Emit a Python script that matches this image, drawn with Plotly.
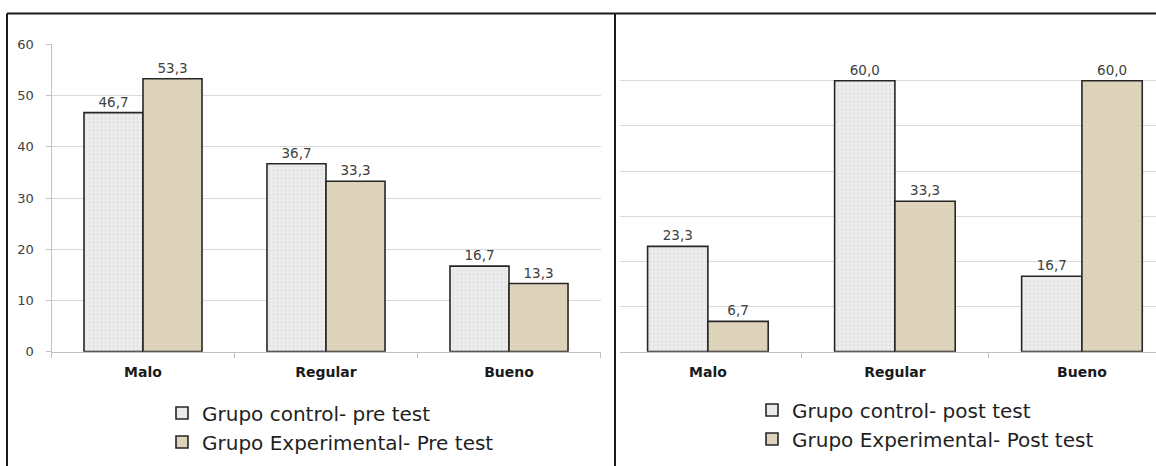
import plotly.graph_objects as go

categories = ["Malo", "Regular", "Bueno"]
pre_control = [46.7, 36.7, 16.7]
pre_experimental = [53.3, 33.3, 13.3]
post_control = [23.3, 60.0, 16.7]
post_experimental = [6.7, 33.3, 60.0]
names_pre = ["Grupo control- pre test", "Grupo Experimental- Pre test"]
names_post = ["Grupo control- post test", "Grupo Experimental- Post test"]
y_ticks_left = [0, 10, 20, 30, 40, 50, 60]

W, H = 1156, 466


def py(v):
    # pixel row (from top) -> paper fraction, compensating the capture's vertical fit
    return 1 - ((v - 6.4) / 0.9705) / H


def fmt(vals):
    return [f"{v:.1f}".replace(".", ",") for v in vals]


ctrl_marker = dict(color="#ededed", line=dict(color="#262626", width=1.6),
                   pattern=dict(shape=".", fgcolor="#d0d0d0", size=4, solidity=0.25, fillmode="overlay"))
exp_marker = dict(color="#e0d6be", line=dict(color="#262626", width=1.6),
                  pattern=dict(shape="+", fgcolor="#c8bb9d", size=4, solidity=0.2, fillmode="overlay"))
label_font = dict(family="DejaVu Sans", size=13.5, color="#404040")

fig = go.Figure()
fig.add_trace(go.Bar(x=categories, y=pre_control, name=names_pre[0], marker=ctrl_marker,
                     text=fmt(pre_control), textposition="outside", textfont=label_font,
                     cliponaxis=False, xaxis="x", yaxis="y", legend="legend"))
fig.add_trace(go.Bar(x=categories, y=pre_experimental, name=names_pre[1], marker=exp_marker,
                     text=fmt(pre_experimental), textposition="outside", textfont=label_font,
                     cliponaxis=False, xaxis="x", yaxis="y", legend="legend"))
fig.add_trace(go.Bar(x=categories, y=post_control, name=names_post[0], marker=ctrl_marker,
                     text=fmt(post_control), textposition="outside", textfont=label_font,
                     cliponaxis=False, xaxis="x2", yaxis="y2", legend="legend2"))
fig.add_trace(go.Bar(x=categories, y=post_experimental, name=names_post[1], marker=exp_marker,
                     text=fmt(post_experimental), textposition="outside", textfont=label_font,
                     cliponaxis=False, xaxis="x2", yaxis="y2", legend="legend2"))

axis_cat = dict(showgrid=False, showline=True, linecolor="#bfbfbf", linewidth=1,
                ticks="outside", tickson="boundaries", ticklen=5, tickcolor="#bfbfbf",
                tickfont=dict(family="DejaVu Sans", size=14, color="#1a1a1a", weight="bold"),
                ticklabelstandoff=8, fixedrange=True)

leg_font = dict(family="DejaVu Sans", size=20, color="#1f1f1f")

fig.update_layout(
    width=W, height=H, margin=dict(l=0, r=0, t=0, b=0),
    paper_bgcolor="white", plot_bgcolor="white",
    barmode="group", bargap=0.355, bargroupgap=0,
    xaxis=dict(domain=[51.5 / W, 600.5 / W], anchor="y", **axis_cat),
    yaxis=dict(domain=[py(352), py(44)], anchor="x", range=[0, 60], tickvals=y_ticks_left,
               showgrid=True, gridcolor="#d9d9d9", gridwidth=1,
               showline=True, linecolor="#bfbfbf", linewidth=1,
               ticks="outside", ticklen=5, tickcolor="#bfbfbf", ticklabelstandoff=9,
               tickfont=dict(family="DejaVu Sans", size=13, color="#404040"),
               zeroline=False, fixedrange=True),
    xaxis2=dict(domain=[620 / W, 1.0], anchor="y2", range=[-0.47, 2.396], **axis_cat),
    yaxis2=dict(domain=[py(352), py(35)], anchor="x2", range=[0, 70], dtick=10,
                showgrid=True, gridcolor="#d9d9d9", gridwidth=1,
                showline=False, showticklabels=False, ticks="",
                zeroline=False, fixedrange=True),
    legend=dict(x=162 / W, y=py(394), xanchor="left", yanchor="top",
                font=leg_font, bgcolor="rgba(0,0,0,0)", tracegroupgap=0, itemwidth=30),
    legend2=dict(x=752 / W, y=py(391), xanchor="left", yanchor="top",
                 font=leg_font, bgcolor="rgba(0,0,0,0)", tracegroupgap=0, itemwidth=30),
    showlegend=True,
    shapes=[
        dict(type="line", xref="paper", yref="paper", x0=7 / W, x1=1, y0=py(13), y1=py(13),
             line=dict(color="#1a1a1a", width=2)),
        dict(type="line", xref="paper", yref="paper", x0=7 / W, x1=7 / W, y0=-0.05, y1=py(13),
             line=dict(color="#1a1a1a", width=2)),
        dict(type="line", xref="paper", yref="paper", x0=615 / W, x1=615 / W, y0=-0.05, y1=py(13),
             line=dict(color="#1a1a1a", width=2)),
    ],
)

post = (
    "var s=document.documentElement.style;s.margin='0';s.padding='0';s.overflow='hidden';"
    "var b=document.body.style;b.margin='0';b.padding='0';b.overflow='hidden';"
    "var d=document.getElementById('{plot_id}');d.style.position='fixed';d.style.left='0';d.style.top='0';"
)
fig.write_html("out.html", config={"displayModeBar": False}, post_script=post)
